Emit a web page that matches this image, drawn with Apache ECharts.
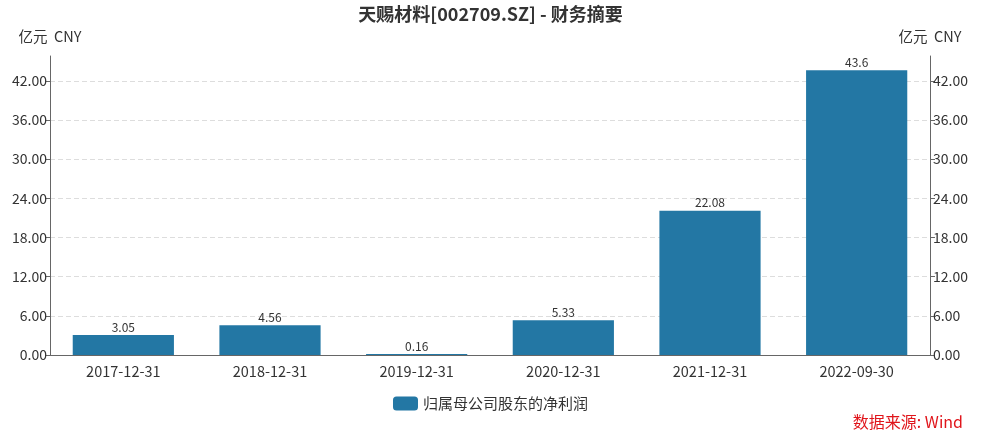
<!DOCTYPE html>
<html><head><meta charset="utf-8">
<script src="https://cdn.jsdelivr.net/npm/echarts@6/dist/echarts.min.js"></script>
<style>html,body{margin:0;padding:0;background:#fff}#c{width:981px;height:436px}</style>
</head><body><div id="c"></div>
<script>
const categories = ['2017-12-31','2018-12-31','2019-12-31','2020-12-31','2021-12-31','2022-09-30'];
const netProfit = [3.05, 4.56, 0.16, 5.33, 22.08, 43.6];
const tickValues = [0, 6, 12, 18, 24, 30, 36, 42];
const seriesName = '归属母公司股东的净利润';
const titleText = '天赐材料[002709.SZ] - 财务摘要';
const unitName = '亿元  CNY';
const sourceText = '数据来源: Wind';

const FONT = '"Microsoft YaHei","Noto Sans CJK SC",sans-serif';
const chart = echarts.init(document.getElementById('c'));
const yAxisBase = {
  type: 'value', min: 0, max: 45.8, interval: 6,
  name: unitName, nameGap: 12,
  nameTextStyle: { color: '#333', fontSize: 14.5, fontFamily: FONT, align: 'center' },
  axisLine: { show: true, lineStyle: { color: '#666' } },
  axisTick: { show: true, length: 5, lineStyle: { color: '#666' }, customValues: tickValues },
  axisLabel: { color: '#333', fontSize: 14, fontFamily: FONT, margin: 3,
    customValues: tickValues, formatter: v => v.toFixed(2) },
  splitLine: { show: true, lineStyle: { color: '#ddd', type: [5, 3] } }
};
chart.setOption({
  animation: false,
  textStyle: { fontFamily: FONT },
  title: { text: titleText, left: 'center', top: 0,
    textStyle: { fontSize: 18, fontWeight: 'bold', color: '#333', fontFamily: FONT } },
  graphic: [{ type: 'text', right: 18, top: 414,
    style: { text: sourceText, fill: '#e0151b', font: '16px ' + FONT } }],
  legend: { bottom: 20, left: 'center', itemWidth: 25, itemHeight: 14,
    textStyle: { color: '#333', fontSize: 15, fontFamily: FONT },
    data: [seriesName] },
  grid: { left: 50, right: 51, top: 56, bottom: 81 },
  xAxis: {
    type: 'category', data: categories,
    axisLine: { lineStyle: { color: '#666' } },
    axisTick: { alignWithLabel: true, length: 5, lineStyle: { color: '#666' } },
    axisLabel: { color: '#333', fontSize: 14.5, fontFamily: FONT, margin: 9 }
  },
  yAxis: [
    Object.assign({}, yAxisBase, { position: 'left' }),
    Object.assign({}, yAxisBase, { position: 'right', splitLine: { show: false } })
  ],
  series: [{
    name: seriesName, type: 'bar', data: netProfit, barWidth: '69%',
    itemStyle: { color: '#2377a4' },
    label: { show: true, position: 'top', distance: 2, color: '#333', fontSize: 12, fontFamily: FONT }
  }]
});
</script></body></html>
